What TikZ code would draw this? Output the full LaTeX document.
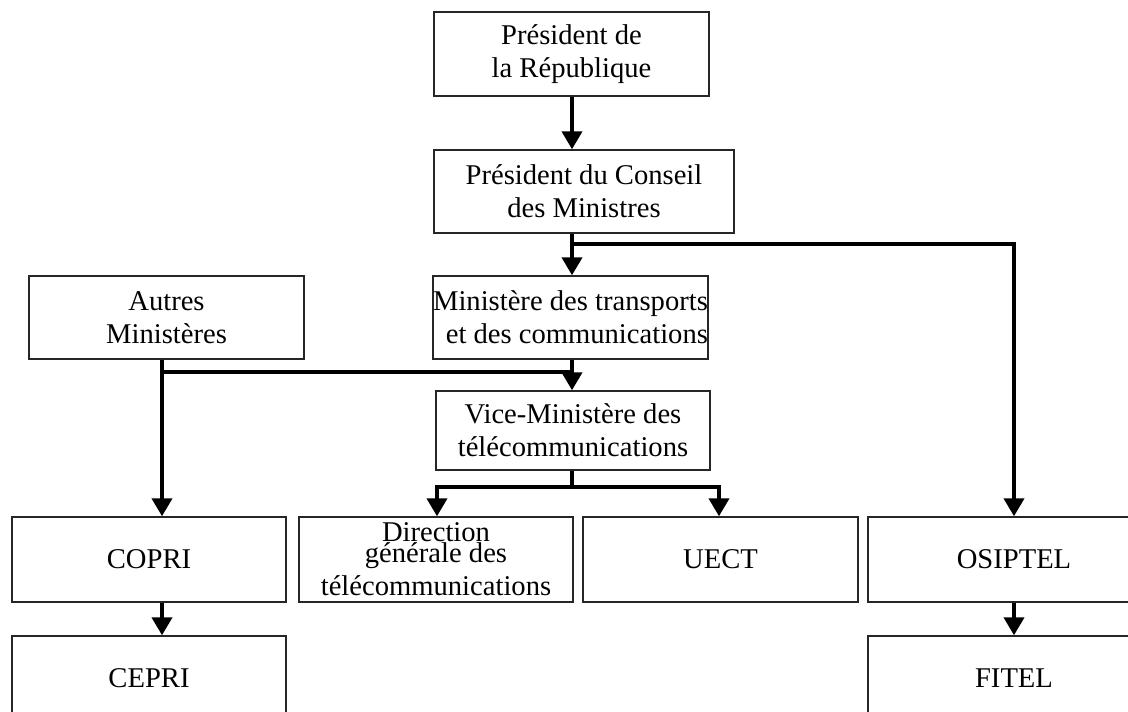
\documentclass[tikz,border=0pt]{standalone}
\usepackage{fontspec}
\setmainfont{Liberation Serif}
\usetikzlibrary{arrows.meta}
\begin{document}
\begin{tikzpicture}[x=1pt,y=-1pt,
  box/.style={draw=black!85, line width=1.4pt, inner sep=0pt, align=center,
    font=\fontsize{28.6}{33}\selectfont},
  conn/.style={line width=4pt, draw=black},
  arr/.style={conn, -{Triangle[width=20pt,length=18pt]}},
  arrboth/.style={conn, {Triangle[width=20pt,length=18pt]}-{Triangle[width=20pt,length=18pt]}}
]
\useasboundingbox (0,0) rectangle (1128,712);

\node[box, minimum width=275pt, minimum height=84pt] (pr) at (571.5,54) {Président de\\la République};
\node[box, minimum width=300pt, minimum height=83pt] (pc) at (584,191.5) {Président du Conseil\\des Ministres};
\node[box, minimum width=275pt, minimum height=83pt] (am) at (166.5,317.5) {Autres\\Ministères};
\node[box, minimum width=275pt, minimum height=83pt, align=right] (mt) at (570.5,317.5) {Ministère des transports\\et des communications};
\node[box, minimum width=274pt, minimum height=79pt] (vm) at (573,430.5) {Vice-Ministère des\\télécommunications};
\node[box, minimum width=274pt, minimum height=85pt] (copri) at (149,559.5) {COPRI};
\node[box, minimum width=274pt, minimum height=85pt] (dg) at (436,559.5) {Direction\\[-12pt]générale des\\télécommunications};
\node[box, minimum width=275pt, minimum height=85pt] (uect) at (720.5,559.5) {UECT};
\node[box, minimum width=292pt, minimum height=85pt] (osi) at (1014,559.5) {OSIPTEL};
\node[box, minimum width=274pt, minimum height=84pt] (cepri) at (149,678) {CEPRI};
\node[box, minimum width=292pt, minimum height=84pt] (fitel) at (1014,678) {FITEL};

\coordinate (jA) at (572,244);
\coordinate (jB) at (1014,244);
\coordinate (jC) at (162,372);
\coordinate (jD) at (572,372);
\coordinate (jE) at (572,487);
\coordinate (jF) at (437,487);
\coordinate (jG) at (719,487);

\draw[arr] (pr.south -| jA) -- (jA |- pc.north);
\draw[conn] (pc.south -| jA) -- (jA);
\draw[arrboth] (jA |- mt.north) -- (jA) -- (jB) -- (jB |- osi.north);
\draw[arr] (am.south -| jC) -- (jC |- copri.north);
\draw[conn] (jC) -- (jD);
\draw[arr] (mt.south -| jD) -- (jD |- vm.north);
\draw[conn] (vm.south -| jE) -- (jE);
\draw[arrboth] (jF |- dg.north) -- (jF) -- (jG) -- (jG |- uect.north);
\draw[arr] (copri.south -| jC) -- (jC |- cepri.north);
\draw[arr] (osi.south) -- (fitel.north);
\end{tikzpicture}
\end{document}
